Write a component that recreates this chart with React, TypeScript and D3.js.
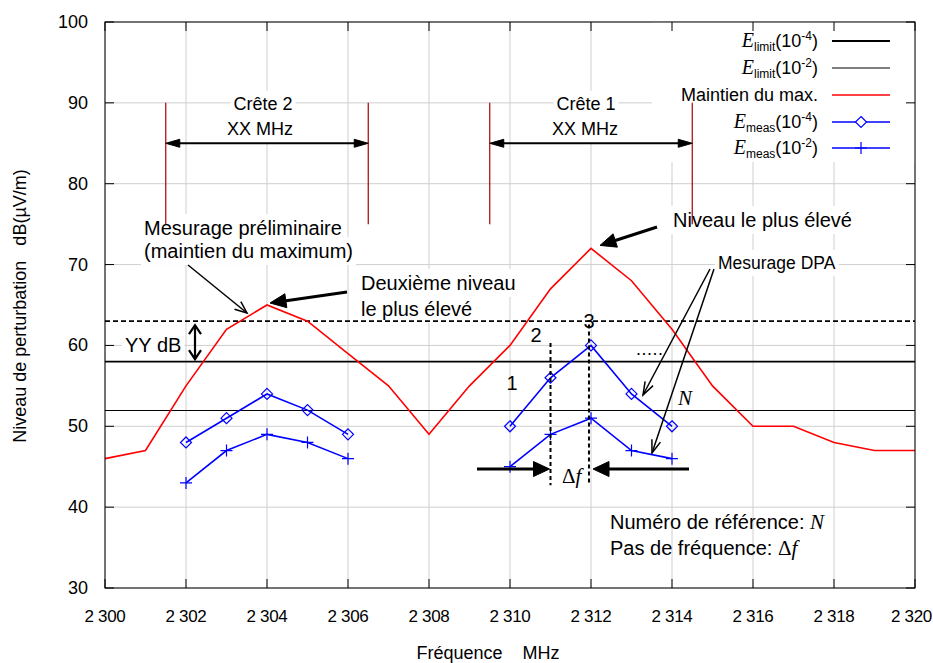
import React, { useEffect, useRef } from 'react';
import * as d3 from 'd3';

const W = 933;
const H = 663;

// ---------- data ----------
const frequencies = [2300, 2301, 2302, 2303, 2304, 2305, 2306, 2307, 2308, 2309, 2310, 2311, 2312, 2313, 2314, 2315, 2316, 2317, 2318, 2319, 2320];
const maxHold = [46, 47, 55, 62, 65, 63, 59, 55, 49, 55, 60, 67, 72, 68, 62, 55, 50, 50, 48, 47, 47];
const peak2Freq = [2302, 2303, 2304, 2305, 2306];
const peak1Freq = [2310, 2311, 2312, 2313, 2314];
const measDiamondPeak2 = [48, 51, 54, 52, 49];
const measDiamondPeak1 = [50, 56, 60, 54, 50];
const measPlusPeak2 = [43, 47, 49, 48, 46];
const measPlusPeak1 = [45, 49, 51, 47, 46];
const limit4Level = 58;
const limit2Level = 52;
const marginLevel = 63;
const xTicks = [2300, 2302, 2304, 2306, 2308, 2310, 2312, 2314, 2316, 2318, 2320];
const xTickLabels = ['2 300', '2 302', '2 304', '2 306', '2 308', '2 310', '2 312', '2 314', '2 316', '2 318', '2 320'];
const yTicks = [30, 40, 50, 60, 70, 80, 90, 100];
const peakBounds = [[2301.5, 2306.5], [2309.5, 2314.5]];
const peakLabels = ['Crête 2', 'Crête 1'];

const SANS = '"Liberation Sans", Arial, Helvetica, sans-serif';
const SERIF = '"Liberation Serif", "Times New Roman", serif';

export default function App() {
  const ref = useRef<SVGSVGElement | null>(null);

  useEffect(() => {
    const svg = d3.select(ref.current);
    svg.selectAll('*').remove();

    const L = 105, R = 915, T = 22, B = 588;
    const x = d3.scaleLinear().domain([2300, 2320]).range([L, R]);
    const y = d3.scaleLinear().domain([30, 100]).range([B, T]);

    const gGrid = svg.append('g');
    const gBoxes = svg.append('g');
    const gData = svg.append('g');
    const gAnn = svg.append('g');
    const gAxes = svg.append('g');
    const gKey = svg.append('g');

    // grid
    xTicks.forEach(v => {
      gGrid.append('line').attr('x1', x(v)).attr('x2', x(v)).attr('y1', T).attr('y2', B)
        .attr('stroke', '#cfcfcf').attr('stroke-width', 1);
    });
    yTicks.forEach(v => {
      gGrid.append('line').attr('x1', L).attr('x2', R).attr('y1', y(v)).attr('y2', y(v))
        .attr('stroke', '#cfcfcf').attr('stroke-width', 1);
    });
    // opaque key box
    gBoxes.append('rect').attr('x', 652).attr('y', T).attr('width', R - 652).attr('height', 162 - T).attr('fill', '#fff');

    // horizontal reference lines
    const snap = (v: number) => Math.round(v) + 0.5;
    gData.append('line').attr('x1', L).attr('x2', R).attr('y1', y(limit4Level)).attr('y2', y(limit4Level))
      .attr('stroke', '#000').attr('stroke-width', 1.6);
    gData.append('line').attr('x1', L).attr('x2', R).attr('y1', snap(y(limit2Level))).attr('y2', snap(y(limit2Level)))
      .attr('stroke', '#000').attr('stroke-width', 1.1);
    gData.append('line').attr('x1', L).attr('x2', R).attr('y1', y(marginLevel)).attr('y2', y(marginLevel))
      .attr('stroke', '#000').attr('stroke-width', 1.6).attr('stroke-dasharray', '5,3');

    const line = d3.line<[number, number]>().x(d => x(d[0])).y(d => y(d[1]));
    gData.append('path').attr('d', line(frequencies.map((f, i) => [f, maxHold[i]]) as [number, number][]))
      .attr('fill', 'none').attr('stroke', '#ff0000').attr('stroke-width', 1.6);

    const drawSeries = (fs: number[], vs: number[], marker: 'diamond' | 'plus') => {
      const pts = fs.map((f, i) => [f, vs[i]] as [number, number]);
      gData.append('path').attr('d', line(pts)).attr('fill', 'none').attr('stroke', '#0000ff').attr('stroke-width', 1.6);
      pts.forEach(p => {
        const cx = x(p[0]), cy = y(p[1]);
        if (marker === 'diamond') {
          const s = 5.5;
          gData.append('path').attr('d', `M${cx},${cy - s}L${cx + s},${cy}L${cx},${cy + s}L${cx - s},${cy}Z`)
            .attr('fill', 'none').attr('stroke', '#0000ff').attr('stroke-width', 1.2);
        } else {
          const s = 6;
          gData.append('path').attr('d', `M${cx - s},${cy}H${cx + s}M${cx},${cy - s}V${cy + s}`)
            .attr('fill', 'none').attr('stroke', '#0000ff').attr('stroke-width', 1.2);
        }
      });
    };
    drawSeries(peak2Freq, measDiamondPeak2, 'diamond');
    drawSeries(peak1Freq, measDiamondPeak1, 'diamond');
    drawSeries(peak2Freq, measPlusPeak2, 'plus');
    drawSeries(peak1Freq, measPlusPeak1, 'plus');

    // ---------- annotations ----------
    const arrow = (x1: number, y1: number, x2: number, y2: number, o: { w: number; len: number; half: number; filled: boolean; both?: boolean }) => {
      const dx = x2 - x1, dy = y2 - y1;
      const d = Math.hypot(dx, dy);
      const ux = dx / d, uy = dy / d, nx = -uy, ny = ux;
      const head = (tx: number, ty: number, sx: number, sy: number) => {
        const bx = tx - sx * o.len, by = ty - sy * o.len;
        if (o.filled) {
          gAnn.append('path').attr('d', `M${tx},${ty}L${bx + nx * o.half},${by + ny * o.half}L${bx - nx * o.half},${by - ny * o.half}Z`)
            .attr('fill', '#000').attr('stroke', '#000').attr('stroke-width', 1).attr('stroke-linejoin', 'miter');
        } else {
          gAnn.append('path').attr('d', `M${bx + nx * o.half},${by + ny * o.half}L${tx},${ty}L${bx - nx * o.half},${by - ny * o.half}`)
            .attr('fill', 'none').attr('stroke', '#000').attr('stroke-width', o.w);
        }
      };
      const sx1 = o.both && o.filled ? x1 + ux * o.len * 0.8 : x1;
      const sy1 = o.both && o.filled ? y1 + uy * o.len * 0.8 : y1;
      const ex = o.filled ? x2 - ux * o.len * 0.8 : x2;
      const ey = o.filled ? y2 - uy * o.len * 0.8 : y2;
      gAnn.append('line').attr('x1', sx1).attr('y1', sy1).attr('x2', ex).attr('y2', ey)
        .attr('stroke', '#000').attr('stroke-width', o.w);
      head(x2, y2, ux, uy);
      if (o.both) head(x1, y1, -ux, -uy);
    };

    // crest bounds and span arrows
    peakBounds.forEach(pb => {
      pb.forEach(f => {
        gAnn.append('line').attr('x1', x(f)).attr('x2', x(f)).attr('y1', y(90)).attr('y2', y(75))
          .attr('stroke', '#a80000').attr('stroke-width', 1.2);
      });
      arrow(x(pb[0]), y(85), x(pb[1]), y(85), { w: 2, len: 14, half: 4, filled: true, both: true });
    });

    const boxed: SVGTextElement[] = [];
    const label = (tx: number, ty: number, s: string, size: number, anchor = 'start', box = false) => {
      const t = gAnn.append('text').attr('x', tx).attr('y', ty).attr('font-family', SANS).attr('font-size', size)
        .attr('text-anchor', anchor).attr('fill', '#000').text(s);
      if (box) boxed.push(t.node() as SVGTextElement);
      return t;
    };

    label(263, 110, peakLabels[0], 18, 'middle', true);
    label(260, 135, 'XX MHz', 18, 'middle', true);
    label(586, 110, peakLabels[1], 18, 'middle', true);
    label(585, 135, 'XX MHz', 18, 'middle', true);

    label(144, 235, 'Mesurage préliminaire', 20, 'start', true);
    label(144, 258, '(maintien du maximum)', 20, 'start', true);
    arrow(188, 265, 247, 313, { w: 1.5, len: 12, half: 5, filled: false });

    label(361, 290, 'Deuxième niveau', 20, 'start', true);
    label(361, 316, 'le plus élevé', 20, 'start', true);
    arrow(347, 292, x(2304) + 3, y(65) - 2, { w: 3, len: 16, half: 7, filled: true });

    label(673, 227, 'Niveau le plus élevé', 20, 'start', true);
    arrow(657, 227, x(2312) + 9, y(72) - 3, { w: 3, len: 16, half: 7, filled: true });

    label(718, 269, 'Mesurage DPA', 17.5, 'start', true);
    arrow(710, 269, 643, 395, { w: 1.5, len: 13, half: 4.5, filled: false });
    arrow(714, 269, 652, 453, { w: 1.5, len: 13, half: 4.5, filled: false });

    label(125, 352, 'YY dB', 20, 'start', true);
    arrow(195, y(62.5), 195, y(58.3), { w: 2.2, len: 9, half: 6, filled: false, both: true });

    // reference numbers and step
    label(512, 390, '1', 20, 'middle');
    label(536, 342, '2', 20, 'middle');
    label(589, 328, '3', 20, 'middle');
    label(636, 355, '.....', 18, 'start').attr('letter-spacing', 0.5);
    gAnn.append('text').attr('x', 678).attr('y', 405).attr('font-family', SERIF).attr('font-style', 'italic')
      .attr('font-size', 21).text('N');

    gAnn.append('line').attr('x1', x(2311)).attr('x2', x(2311)).attr('y1', y(60.3)).attr('y2', y(42.7))
      .attr('stroke', '#000').attr('stroke-width', 2).attr('stroke-dasharray', '4,3');
    gAnn.append('line').attr('x1', x(2311.95)).attr('x2', x(2311.95)).attr('y1', y(62.6)).attr('y2', y(42.7))
      .attr('stroke', '#000').attr('stroke-width', 2).attr('stroke-dasharray', '4,3');
    arrow(477, 469, x(2311) - 1, 469, { w: 3, len: 16, half: 7.5, filled: true });
    arrow(689, 469, x(2312) + 2, 469, { w: 3, len: 16, half: 7.5, filled: true });
    const df = gAnn.append('text').attr('x', 562).attr('y', 483).attr('font-family', SERIF).attr('font-size', 21);
    df.append('tspan').text('Δ');
    df.append('tspan').attr('font-style', 'italic').text('f');

    const n1 = gAnn.append('text').attr('x', 610).attr('y', 529).attr('font-family', SANS).attr('font-size', 20);
    n1.append('tspan').text('Numéro de référence: ');
    n1.append('tspan').attr('font-family', SERIF).attr('font-style', 'italic').attr('font-size', 21).text('N');
    const n2 = gAnn.append('text').attr('x', 610).attr('y', 555).attr('font-family', SANS).attr('font-size', 20);
    n2.append('tspan').text('Pas de fréquence: ');
    n2.append('tspan').attr('font-family', SERIF).attr('font-size', 21).text('Δ');
    n2.append('tspan').attr('font-family', SERIF).attr('font-style', 'italic').attr('font-size', 21).text('f');

    // boxes behind labels
    boxed.forEach(el => {
      const b = el.getBBox();
      gBoxes.append('rect').attr('x', b.x - 3).attr('y', b.y - 3).attr('width', b.width + 6).attr('height', b.height + 6)
        .attr('fill', '#fff');
    });

    // ---------- axes ----------
    gAxes.append('rect').attr('x', L).attr('y', T).attr('width', R - L).attr('height', B - T)
      .attr('fill', 'none').attr('stroke', '#000').attr('stroke-width', 1);
    const tk = 9;
    xTicks.forEach((v, i) => {
      gAxes.append('line').attr('x1', x(v)).attr('x2', x(v)).attr('y1', B).attr('y2', B - tk).attr('stroke', '#000');
      gAxes.append('line').attr('x1', x(v)).attr('x2', x(v)).attr('y1', T).attr('y2', T + tk).attr('stroke', '#000');
      const t = gAxes.append('text').attr('x', x(v)).attr('y', 622).attr('text-anchor', 'middle').attr('font-family', SANS)
        .attr('font-size', 17).attr('letter-spacing', -0.3).text(xTickLabels[i]);
      const bb = (t.node() as SVGTextElement).getBBox();
      if (bb.x + bb.width > W - 1) t.attr('x', x(v) - (bb.x + bb.width - (W - 1)));
    });
    yTicks.forEach(v => {
      gAxes.append('line').attr('x1', L).attr('x2', L + tk).attr('y1', y(v)).attr('y2', y(v)).attr('stroke', '#000');
      gAxes.append('line').attr('x1', R).attr('x2', R - tk).attr('y1', y(v)).attr('y2', y(v)).attr('stroke', '#000');
      gAxes.append('text').attr('x', 88).attr('y', y(v) + 6).attr('text-anchor', 'end').attr('font-family', SANS)
        .attr('font-size', 18).text(String(v));
    });
    gAxes.append('text').attr('x', 488).attr('y', 659).attr('text-anchor', 'middle').attr('font-family', SANS)
      .attr('font-size', 18).style('white-space', 'pre').text('Fréquence    MHz');
    gAxes.append('text').attr('transform', 'translate(26,306) rotate(-90)').attr('text-anchor', 'middle')
      .attr('font-family', SANS).attr('font-size', 18).style('white-space', 'pre')
      .text('Niveau de perturbation   dB(µV/m)');

    // ---------- key ----------
    const rows = [41, 68, 95, 122, 148];
    const eLabel = (ry: number, sub: string, exp: string) => {
      const t = gKey.append('text').attr('x', 818).attr('y', ry + 6).attr('text-anchor', 'end').attr('font-family', SANS).attr('font-size', 18);
      t.append('tspan').attr('font-family', SERIF).attr('font-style', 'italic').attr('font-size', 20).text('E');
      t.append('tspan').attr('font-size', 12).attr('dy', 4).text(sub);
      t.append('tspan').attr('dy', -4).text('(10');
      t.append('tspan').attr('font-size', 12).attr('dy', -7).text(exp);
      t.append('tspan').attr('dy', 7).text(')');
    };
    eLabel(rows[0], 'limit', '-4');
    eLabel(rows[1], 'limit', '-2');
    gKey.append('text').attr('x', 818).attr('y', rows[2] + 6).attr('text-anchor', 'end').attr('font-family', SANS)
      .attr('font-size', 18).text('Maintien du max.');
    eLabel(rows[3], 'meas', '-4');
    eLabel(rows[4], 'meas', '-2');
    const keyLine = (ry: number, color: string, w: number) =>
      gKey.append('line').attr('x1', 832).attr('x2', 890).attr('y1', ry).attr('y2', ry).attr('stroke', color).attr('stroke-width', w);
    keyLine(rows[0], '#000', 1.8);
    keyLine(rows[1], '#000', 1.2);
    keyLine(rows[2], '#ff0000', 1.6);
    keyLine(rows[3], '#0000ff', 1.6);
    keyLine(rows[4], '#0000ff', 1.6);
    const s = 5.5;
    gKey.append('path').attr('d', `M861,${rows[3] - s}L${861 + s},${rows[3]}L861,${rows[3] + s}L${861 - s},${rows[3]}Z`)
      .attr('fill', '#fff').attr('stroke', '#0000ff').attr('stroke-width', 1.2);
    gKey.append('path').attr('d', `M855,${rows[4]}H867M861,${rows[4] - 6}V${rows[4] + 6}`)
      .attr('fill', 'none').attr('stroke', '#0000ff').attr('stroke-width', 1.2);
  }, []);

  return (
    <svg ref={ref} width={W} height={H} viewBox={`0 0 ${W} ${H}`}
      style={{ position: 'absolute', left: 0, top: 0, background: '#fff', display: 'block' }} />
  );
}
